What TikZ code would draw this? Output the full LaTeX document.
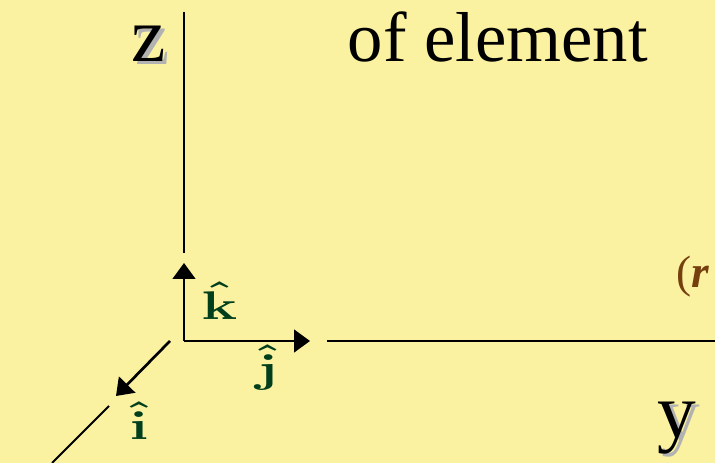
\RequirePackage{fix-cm}
\documentclass[tikz,border=0pt]{standalone}
\usepackage{fontspec}
\setmainfont{Liberation Serif}
\usetikzlibrary{arrows.meta}
\definecolor{paper}{RGB}{250,242,160}
\definecolor{unitgreen}{RGB}{0,62,28}
\definecolor{rbrown}{RGB}{118,64,14}
\tikzset{
  axis/.style={line width=1.5pt, black},
  unitvec/.style={line width=2pt, black, -{Triangle[length=12pt, width=17pt]}},
  unitlabel/.style={text=unitgreen, anchor=base, font=\fontsize{30}{30}\selectfont},
  axislabel/.style={font=\fontsize{58}{58}\selectfont, anchor=base west},
}
\newcommand{\unitvec}[1]{\scalebox{1.5}[1]{\boldmath$\hat{\mathbf{#1}}$}}
\newcommand{\shadowed}[1]{\rlap{\hspace{2.5pt}\raisebox{-2pt}{\textcolor{black!30}{#1}}}#1}
\begin{document}
\begin{tikzpicture}[x=0.75pt, y=0.75pt]

  % --- 1. 背景 ---
  \fill[paper] (0,0) rectangle (715,463);
  \useasboundingbox (0,0) rectangle (715,463);
  \clip (0,0) rectangle (715,463);

  % --- 2. 座標軸 ---
  \coordinate (O) at (184,122);
  \coordinate (Ztop) at (184,451);
  \coordinate (Zbot) at (184,210);
  \coordinate (Ystart) at (327,122);
  \coordinate (Yend) at (715,122);
  \coordinate (Xstart) at (109,57);
  \coordinate (Xend) at (52,0);
  \draw[axis] (Ztop) -- (Zbot);
  \draw[axis] (Ystart) -- (Yend);
  \draw[axis] (Xstart) -- (Xend);

  % --- 3. 単位ベクトル ---
  \coordinate (Ktip) at (184,200);
  \coordinate (Jtip) at (310,122);
  \coordinate (Istart) at (170,122);
  \coordinate (Itip) at (116,67);
  \draw[unitvec] (O) -- (Ktip);
  \draw[unitvec] (O) -- (Jtip);
  \draw[unitvec] (Istart) -- (Itip);
  \node[unitlabel] (khat) at (219.5,143) {\unitvec{k}};
  \node[unitlabel] (jhat) at (267.5,80) {\unitvec{j}};
  \node[unitlabel] (ihat) at (139,23) {\unitvec{i}};

  % --- 4. ラベル (影付き) ---
  \node[axislabel] (zlabel) at (127,401) {\shadowed{z}};
  \node[axislabel] (ylabel) at (653,25) {\shadowed{y}};
  \node[anchor=base west, font=\fontsize{53}{53}\selectfont] (title) at (343,401) {of element};
  \node[anchor=base west, inner sep=0pt, text=rbrown, font=\fontsize{34}{34}\selectfont] (rpart) at (676,175) {(\textbf{\textit{r}}};

\end{tikzpicture}
\end{document}
